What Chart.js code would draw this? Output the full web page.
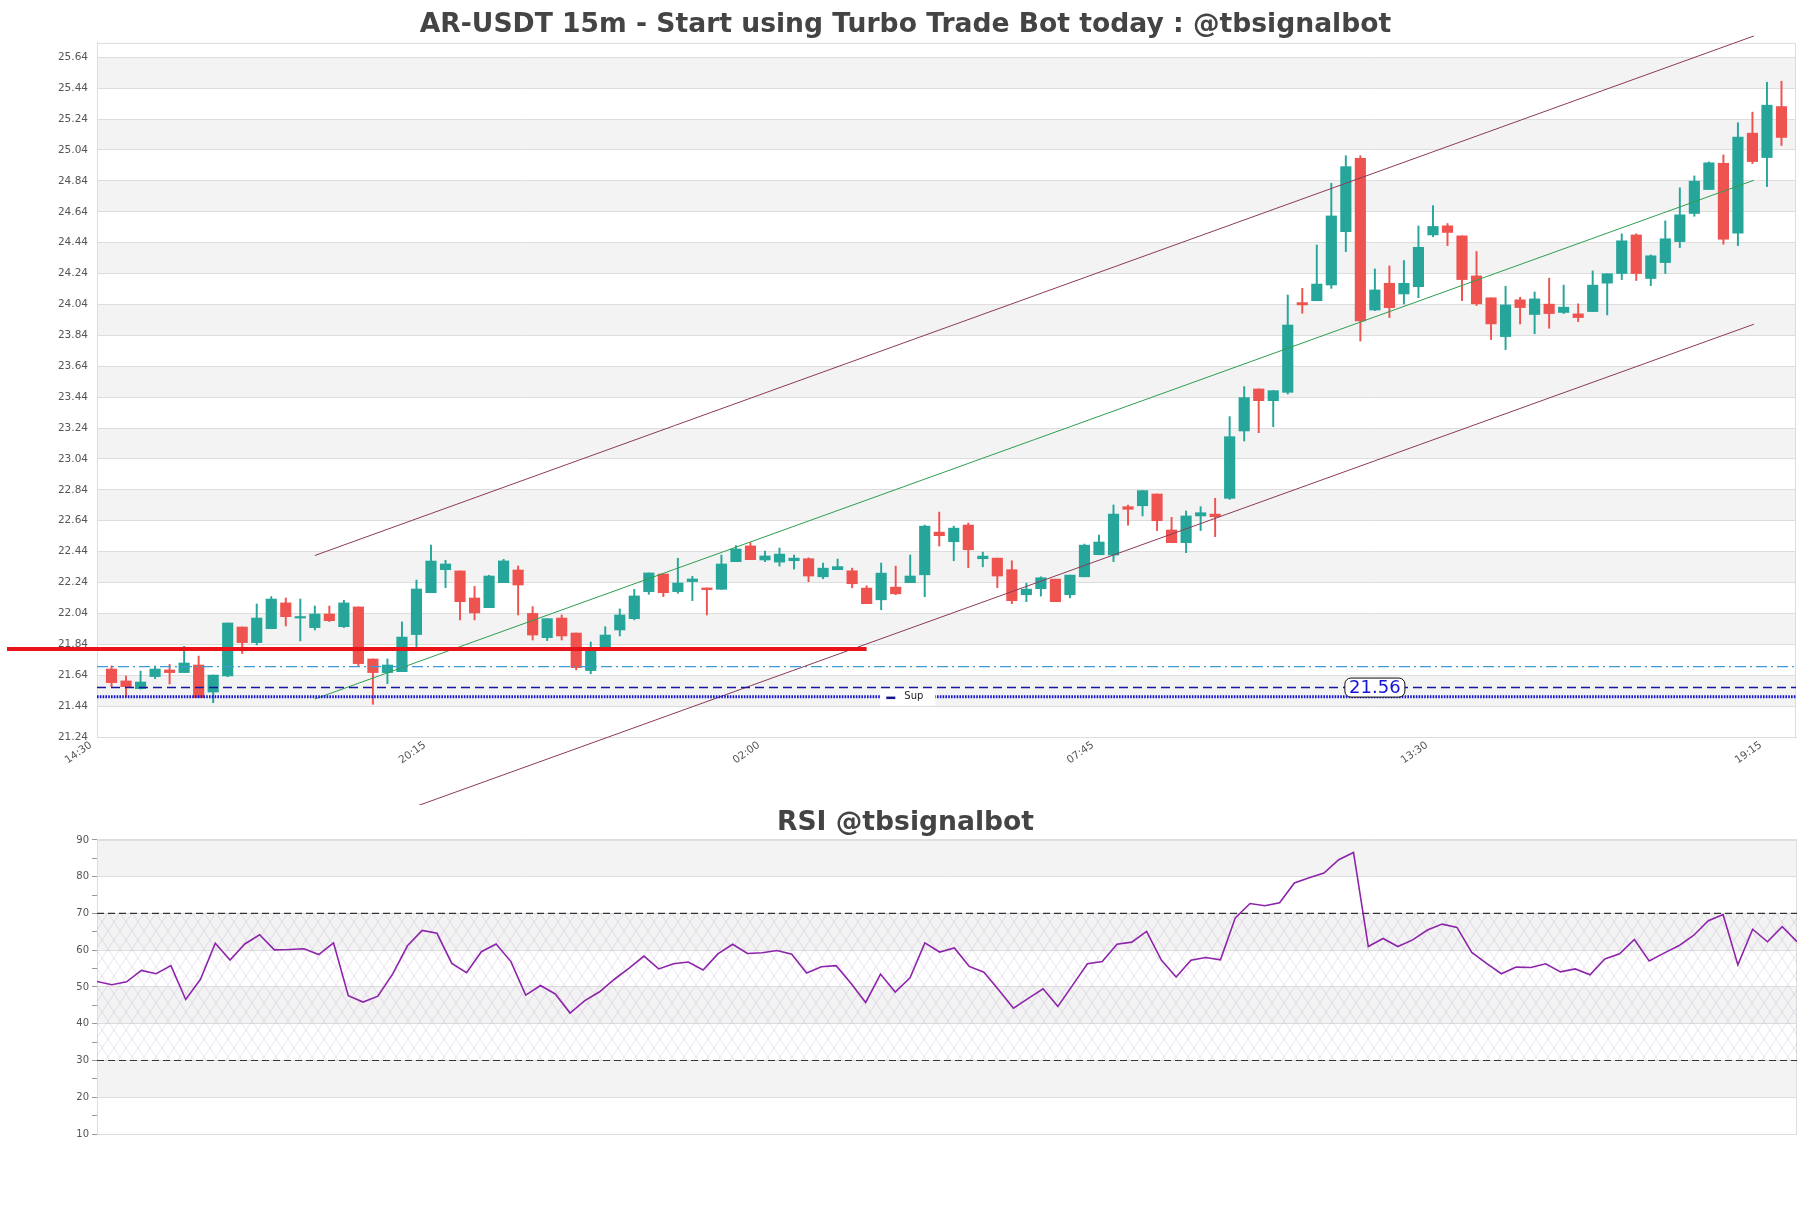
<!DOCTYPE html>
<html>
<head>
<meta charset="utf-8">
<script src="https://cdn.jsdelivr.net/npm/chart.js@4.4.1/dist/chart.umd.min.js"></script>
<style>
  html, body { margin: 0; padding: 0; background: #fff; }
  #main-wrap { position: relative; width: 1811px; height: 805px; }
  #rsi-wrap { position: relative; width: 1811px; height: 403px; }
</style>
</head>
<body>
<div id="main-wrap"><canvas id="mainChart"></canvas></div>
<div id="rsi-wrap"><canvas id="rsiChart"></canvas></div>
<script>
// candles, 15m, 14:45 .. 19:30
const opens = [21.680,21.603,21.553,21.631,21.674,21.657,21.706,21.531,21.635,21.952,
  21.851,21.941,22.108,22.010,21.948,22.036,21.954,22.082,21.745,21.657,
  21.663,21.903,22.174,22.323,22.315,22.140,22.077,22.239,22.321,22.040,
  21.883,22.010,21.913,21.670,21.803,21.933,22.006,22.181,22.295,22.181,
  22.246,22.205,22.196,22.375,22.477,22.386,22.372,22.381,22.394,22.277,
  22.323,22.316,22.204,22.128,22.210,22.239,22.290,22.566,22.504,22.612,
  22.394,22.398,22.323,22.161,22.200,22.262,22.161,22.277,22.420,22.418,
  22.731,22.737,22.813,22.580,22.498,22.671,22.683,22.785,23.221,23.493,
  23.417,23.471,24.052,24.064,24.166,24.511,24.986,24.004,24.177,24.108,
  24.155,24.490,24.549,24.484,24.225,24.083,23.832,24.070,23.975,24.042,
  23.988,23.979,23.994,24.178,24.240,24.490,24.208,24.311,24.447,24.629,
  24.784,24.954,24.501,25.149,24.991,25.321];
const highs = [21.700,21.635,21.667,21.700,21.710,21.827,21.764,21.641,21.978,21.952,
  22.101,22.149,22.140,22.133,22.088,22.088,22.125,22.082,21.745,21.745,
  21.985,22.256,22.483,22.384,22.315,22.215,22.287,22.390,22.347,22.084,
  22.006,22.030,21.913,21.855,21.954,22.069,22.196,22.302,22.295,22.397,
  22.280,22.205,22.418,22.479,22.498,22.444,22.463,22.418,22.400,22.366,
  22.392,22.333,22.219,22.366,22.346,22.418,22.612,22.696,22.605,22.625,
  22.437,22.398,22.381,22.236,22.277,22.262,22.288,22.489,22.547,22.742,
  22.742,22.835,22.813,22.662,22.703,22.731,22.785,23.314,23.508,23.493,
  23.482,24.101,24.144,24.425,24.824,25.003,25.003,24.270,24.289,24.324,
  24.548,24.680,24.564,24.484,24.383,24.083,24.158,24.087,24.121,24.210,
  24.165,24.044,24.257,24.239,24.497,24.497,24.361,24.581,24.795,24.872,
  24.963,25.008,25.216,25.285,25.479,25.485];
const lows = [21.566,21.500,21.550,21.618,21.583,21.657,21.495,21.462,21.630,21.780,
  21.836,21.941,21.959,21.862,21.933,21.987,21.948,21.695,21.452,21.585,
  21.663,21.825,22.174,22.207,21.998,21.998,22.077,22.239,22.030,21.868,
  21.864,21.868,21.674,21.650,21.803,21.894,21.998,22.164,22.149,22.170,
  22.123,22.030,22.196,22.375,22.388,22.375,22.346,22.327,22.245,22.264,
  22.323,22.206,22.103,22.064,22.161,22.239,22.148,22.476,22.381,22.336,
  22.342,22.206,22.103,22.116,22.152,22.116,22.141,22.277,22.420,22.375,
  22.612,22.671,22.576,22.498,22.433,22.576,22.537,22.778,23.156,23.210,
  23.249,23.460,23.983,24.064,24.144,24.382,23.803,24.000,23.955,24.043,
  24.084,24.478,24.421,24.065,24.033,23.813,23.748,23.914,23.850,23.886,
  23.981,23.929,23.994,23.972,24.201,24.195,24.162,24.240,24.408,24.611,
  24.784,24.430,24.421,24.952,24.803,25.069];
const closes = [21.592,21.566,21.596,21.680,21.657,21.719,21.495,21.641,21.978,21.851,
  22.010,22.133,22.019,22.020,22.036,21.993,22.108,21.715,21.657,21.706,
  21.887,22.198,22.379,22.360,22.116,22.043,22.282,22.380,22.224,21.900,
  22.006,21.894,21.689,21.808,21.900,22.030,22.153,22.302,22.174,22.237,
  22.263,22.194,22.360,22.457,22.388,22.412,22.424,22.398,22.282,22.333,
  22.343,22.232,22.103,22.301,22.167,22.282,22.605,22.543,22.592,22.452,
  22.411,22.282,22.122,22.197,22.271,22.116,22.288,22.482,22.502,22.683,
  22.714,22.835,22.640,22.498,22.671,22.692,22.666,23.184,23.437,23.417,
  23.482,23.907,24.037,24.172,24.613,24.932,23.933,24.134,24.019,24.177,
  24.410,24.545,24.506,24.201,24.044,23.914,24.037,24.020,24.076,23.981,
  24.022,23.955,24.165,24.239,24.452,24.240,24.355,24.465,24.620,24.838,
  24.957,24.462,25.123,24.965,25.330,25.121];

const rsiValues = [51.5,50.6,51.4,54.5,53.6,55.8,46.6,52.1,61.9,57.3,
  61.7,64.2,60.1,60.2,60.4,58.8,62.0,47.6,45.9,47.5,
  53.5,61.2,65.4,64.6,56.4,53.9,59.6,61.7,56.9,47.8,
  50.4,48.1,42.9,46.3,48.7,52.1,55.1,58.4,54.9,56.3,
  56.8,54.6,59.0,61.6,59.1,59.3,59.9,58.9,53.8,55.5,
  55.8,51.0,45.8,53.5,48.6,52.5,62.0,59.5,60.6,55.6,
  54.0,49.2,44.2,46.9,49.5,44.7,50.5,56.3,56.9,61.6,
  62.2,65.1,57.3,52.7,57.3,58.0,57.4,68.8,72.7,72.1,
  72.9,78.3,79.7,81.0,84.6,86.6,61.0,63.2,61.0,62.8,
  65.5,67.1,66.2,59.4,56.4,53.6,55.4,55.3,56.3,54.1,
  54.9,53.3,57.6,59.0,62.9,57.1,59.2,61.2,64.0,68.0,
  69.7,56.0,65.7,62.3,66.4,62.3];

// axis ticks
const xTickIndex = [0, 23, 46, 69, 92, 115];
const xTickLabels = ['14:30', '20:15', '02:00', '07:45', '13:30', '19:15'];
const yTicks = [];
for (let v = 21.24; v < 25.7; v += 0.2) yTicks.push(Math.round(v * 100) / 100);

// levels and channel
const resistLevel = 21.81;
const resistFrom = -6.2, resistTo = 53;
const midLevel = 21.695;
const supLevel = 21.56;
const supLow = 21.50;
const channelUpper = [[15, 22.415], [114.1, 25.778]];
const channelMid = [[15, 21.486], [114.1, 24.844]];
const channelLower = [[15, 20.555], [114.1, 23.912]];
const rsiHigh = 70, rsiLow = 30;

Chart.defaults.font.family = "'DejaVu Sans', sans-serif";
Chart.defaults.animation = false;

const upColor = '#26a69a';
const downColor = '#ef5350';
const xIdx = opens.map((_, i) => i + 1);
const candleColors = opens.map((o, i) => closes[i] >= o ? upColor : downColor);
const toPts = arr => arr.map(p => ({ x: p[0], y: p[1] }));
const hLine = (y, a, b) => [{ x: a, y }, { x: b, y }];

// gray stripes + box round the plot
const bandsPlugin = {
  id: 'bands',
  beforeDraw(chart, args, opts) {
    const { ctx, chartArea: a, scales: { y } } = chart;
    ctx.save();
    ctx.fillStyle = '#f3f3f3';
    opts.bands.forEach(([lo, hi]) => {
      const t = y.getPixelForValue(hi), b = y.getPixelForValue(lo);
      ctx.fillRect(a.left, t, a.right - a.left, b - t);
    });
    ctx.strokeStyle = '#dddddd';
    ctx.lineWidth = 1;
    ctx.strokeRect(a.left + 0.5, a.top + 0.5, a.right - a.left - 1, a.bottom - a.top);
    ctx.restore();
  }
};

// 21.56 tag and Sup tag
const tagsPlugin = {
  id: 'tags',
  afterDatasetsDraw(chart) {
    const { ctx, scales: { x, y } } = chart;
    ctx.save();
    // price tag
    let cx = x.getPixelForValue(88), cy = y.getPixelForValue(supLevel);
    const w = 60, h = 19;
    ctx.beginPath();
    ctx.roundRect(cx - w / 2, cy - h / 2, w, h, 6);
    ctx.fillStyle = '#fff';
    ctx.fill();
    ctx.strokeStyle = '#111';
    ctx.lineWidth = 1;
    ctx.stroke();
    ctx.fillStyle = '#1414d8';
    ctx.font = "18px 'DejaVu Sans'";
    ctx.textAlign = 'center';
    ctx.textBaseline = 'middle';
    ctx.fillText(supLevel.toFixed(2), cx, cy + 1);
    // legend-like box
    cx = x.getPixelForValue(55.8);
    cy = y.getPixelForValue(supLow);
    ctx.fillStyle = '#fff';
    ctx.fillRect(cx - 27, cy - 8, 55, 17);
    ctx.strokeStyle = '#14148c';
    ctx.lineWidth = 2.5;
    ctx.beginPath();
    ctx.moveTo(cx - 21, cy + 1);
    ctx.lineTo(cx - 12, cy + 1);
    ctx.stroke();
    ctx.fillStyle = '#222';
    ctx.font = "10px 'DejaVu Sans'";
    ctx.textAlign = 'left';
    ctx.fillText('Sup', cx - 3, cy);
    ctx.restore();
  }
};

const mainBands = [];
for (let i = 1; i + 1 < yTicks.length; i += 2) mainBands.push([yTicks[i], yTicks[i + 1]]);

new Chart(document.getElementById('mainChart'), {
  type: 'bar',
  data: {
    datasets: [
      { type: 'line', data: hLine(resistLevel, resistFrom, resistTo), borderColor: '#e8141a', borderWidth: 4, pointRadius: 0, clip: false, order: 0 },
      { type: 'line', data: hLine(midLevel, 0, 117), borderColor: '#3b9bd8', borderWidth: 1.3, borderDash: [11, 4, 2, 4], pointRadius: 0, order: 0 },
      { type: 'line', data: hLine(supLevel, 0, 117), borderColor: '#16169e', borderWidth: 1.6, borderDash: [9, 5], pointRadius: 0, order: 0 },
      { type: 'line', data: hLine(supLow, 0, 117), borderColor: '#1414d0', borderWidth: 3, borderDash: [1.6, 1.2], pointRadius: 0, order: 0 },
      { type: 'line', data: toPts(channelUpper), borderColor: '#8b3a5a', borderWidth: 1, pointRadius: 0, clip: false, order: 0 },
      { type: 'line', data: toPts(channelMid), borderColor: '#2e9e4e', borderWidth: 1, pointRadius: 0, clip: false, order: 0 },
      { type: 'line', data: toPts(channelLower), borderColor: '#8b3a5a', borderWidth: 1, pointRadius: 0, clip: false, order: 0 },
      { label: 'body', data: xIdx.map((x, i) => ({ x, y: [opens[i], closes[i]] })), backgroundColor: candleColors, barThickness: 10.5, minBarLength: 1, grouped: false, order: 2 },
      { label: 'wick', data: xIdx.map((x, i) => ({ x, y: [lows[i], highs[i]] })), backgroundColor: candleColors, barThickness: 1.3, grouped: false, order: 3 }
    ]
  },
  options: {
    responsive: true,
    maintainAspectRatio: false,
    devicePixelRatio: 1,
    layout: { padding: { left: 15, right: 15, bottom: 0 } },
    plugins: {
      legend: { display: false },
      tooltip: { enabled: false },
      title: {
        display: true,
        text: 'AR-USDT 15m - Start using Turbo Trade Bot today : @tbsignalbot',
        color: '#444',
        font: { size: 26.6, weight: 'bold' },
        padding: { top: 9, bottom: 2 }
      },
      bands: { bands: mainBands }
    },
    scales: {
      x: {
        type: 'linear',
        min: 0,
        max: 117,
        offset: false,
        grid: { display: false, offset: false },
        border: { color: '#dddddd' },
        afterBuildTicks: s => { s.ticks = xTickIndex.map(v => ({ value: v })); },
        afterFit: s => { s.height = 68; },
        ticks: {
          autoSkip: false,
          minRotation: 35,
          maxRotation: 35,
          color: '#555',
          font: { size: 10.5 },
          padding: -6,
          labelOffset: -6,
          callback: v => xTickLabels[xTickIndex.indexOf(v)]
        }
      },
      y: {
        min: 21.24,
        max: 25.733,
        grid: { color: '#dddddd', drawTicks: false },
        border: { color: '#dddddd' },
        afterBuildTicks: s => { s.ticks = yTicks.map(v => ({ value: v })); },
        afterFit: s => { s.width = 82; },
        ticks: {
          color: '#555',
          font: { size: 10.5 },
          padding: 9,
          callback: v => Number(v).toFixed(2)
        }
      }
    }
  },
  plugins: [bandsPlugin, tagsPlugin]
});

// RSI panel
const rsiCanvas = document.getElementById('rsiChart');
function makeHatch(ctx) {
  const c = document.createElement('canvas');
  c.width = 12; c.height = 18;
  const g = c.getContext('2d');
  g.strokeStyle = 'rgba(165,140,190,0.32)';
  g.lineWidth = 0.8;
  g.beginPath();
  g.moveTo(0, 0); g.lineTo(12, 18);
  g.moveTo(12, 0); g.lineTo(0, 18);
  g.stroke();
  return ctx.createPattern(c, 'repeat');
}
const hatch = makeHatch(rsiCanvas.getContext('2d'));

new Chart(rsiCanvas, {
  type: 'line',
  data: {
    datasets: [
      { data: xIdx.map((x, i) => ({ x, y: rsiValues[i] })), borderColor: '#8e24aa', borderWidth: 1.6, pointRadius: 0, tension: 0, order: 0 },
      { data: hLine(rsiHigh, 1, 116), borderColor: '#333', borderWidth: 1.2, borderDash: [7, 4], pointRadius: 0, fill: '+1', backgroundColor: hatch, order: 1 },
      { data: hLine(rsiLow, 1, 116), borderColor: '#333', borderWidth: 1.2, borderDash: [7, 4], pointRadius: 0, fill: false, order: 1 }
    ]
  },
  options: {
    responsive: true,
    maintainAspectRatio: false,
    devicePixelRatio: 1,
    layout: { padding: { left: 14, right: 14, bottom: 74 } },
    plugins: {
      legend: { display: false },
      tooltip: { enabled: false },
      title: {
        display: true,
        text: 'RSI @tbsignalbot',
        color: '#444',
        font: { size: 26.6, weight: 'bold' },
        padding: { top: 2, bottom: 1 }
      },
      bands: { bands: [[20, 30], [40, 50], [60, 70], [80, 90]] }
    },
    scales: {
      x: { type: 'linear', min: 1, max: 116, display: false },
      y: {
        min: 10,
        max: 90,
        border: { color: '#dddddd' },
        grid: {
          color: c => (c.tick && c.tick.value % 10 === 0) ? '#dddddd' : 'rgba(0,0,0,0)',
          tickColor: '#999',
          tickLength: 5
        },
        afterFit: s => { s.width = 83; },
        ticks: {
          stepSize: 5,
          color: '#555',
          font: { size: 10 },
          padding: 3,
          callback: v => v % 10 === 0 ? v : ''
        }
      }
    }
  },
  plugins: [bandsPlugin]
});
</script>
</body>
</html>
